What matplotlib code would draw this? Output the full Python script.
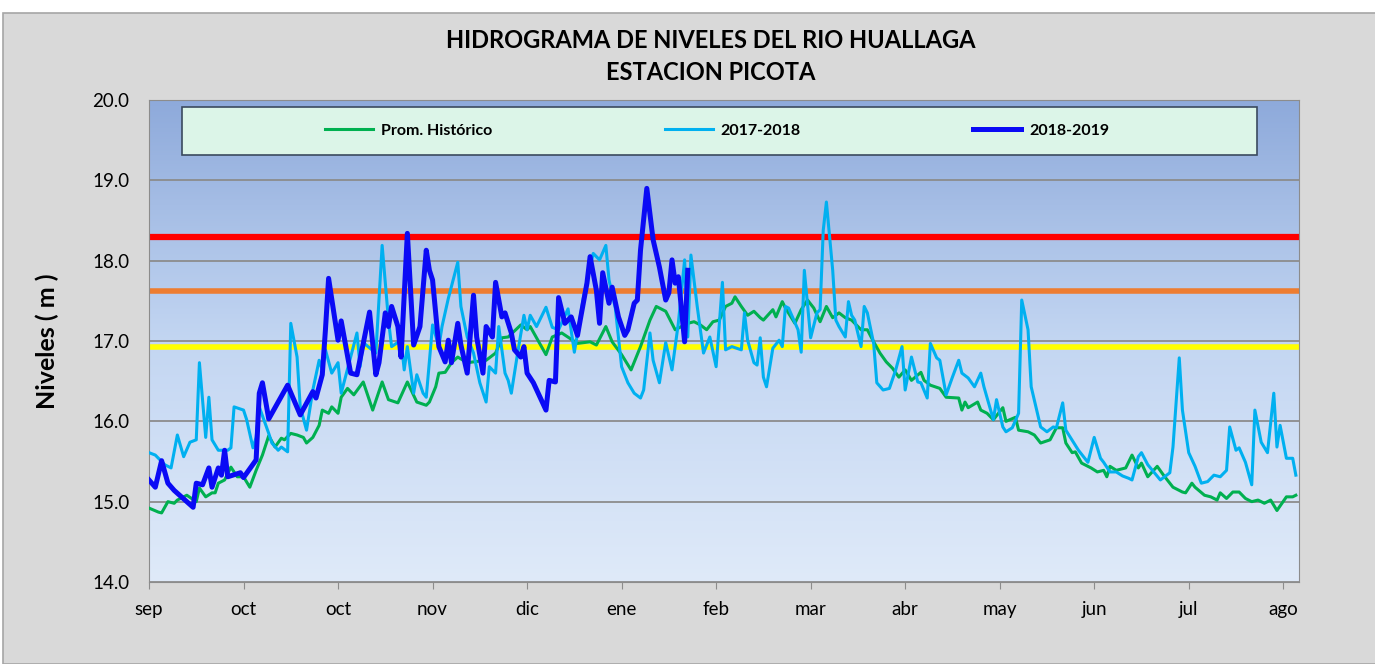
# hidrograma de niveles - rio huallaga, estacion picota
# daily levels (m), x given as days from 1 sep

import numpy as np
import matplotlib
matplotlib.use('Agg')
import matplotlib.pyplot as plt
from matplotlib.colors import LinearSegmentedColormap
from matplotlib.patches import Rectangle

plt.rcParams['font.family'] = ['Lato', 'DejaVu Sans']

month_ticks = [0, 30, 60, 90, 120, 150, 180, 210, 240, 270, 300, 330, 360]
month_labels = ['sep', 'oct', 'oct', 'nov', 'dic', 'ene', 'feb', 'mar', 'abr', 'may', 'jun', 'jul', 'ago']

# Prom. Historico
hist_day = [0, 3, 4, 6, 8, 9, 12, 15, 16, 18, 20, 21, 22, 24, 26, 28, 30, 32, 34, 36,
            38, 40, 42, 43, 45, 47, 49, 50, 52, 54, 55, 57, 58, 60, 61, 63, 65, 68, 71, 74,
            76, 79, 82, 85, 88, 89, 91, 92, 94, 96, 98, 101, 107, 110, 112, 114, 118, 120, 121, 123,
            126, 128, 131, 136, 140, 142, 145, 147, 150, 153, 156, 159, 161, 164, 167, 171, 173, 175, 177, 179,
            181, 183, 185, 186, 188, 190, 192, 194, 195, 198, 199, 201, 202, 205, 207, 209, 211, 213, 215, 217,
            219, 221, 223, 226, 228, 230, 232, 234, 236, 238, 240, 242, 245, 246, 248, 251, 253, 257, 258, 259,
            260, 263, 264, 266, 268, 271, 272, 275, 276, 279, 281, 283, 286, 288, 290, 291, 293, 294, 296, 299,
            301, 303, 304, 305, 307, 310, 312, 314, 315, 317, 320, 322, 325, 328, 329, 331, 332, 335, 337, 339,
            340, 342, 344, 346, 348, 350, 352, 354, 356, 358, 361, 363, 364]
hist_val = [14.92, 14.87, 14.86, 15.00, 14.98, 15.02, 15.08, 15.00, 15.17, 15.06, 15.11, 15.11, 15.23, 15.27, 15.43, 15.31, 15.31, 15.18, 15.39, 15.58,
            15.82, 15.68, 15.79, 15.77, 15.85, 15.83, 15.80, 15.73, 15.80, 15.95, 16.14, 16.10, 16.18, 16.10, 16.30, 16.41, 16.33, 16.49, 16.14, 16.49,
            16.27, 16.23, 16.49, 16.24, 16.20, 16.24, 16.43, 16.60, 16.61, 16.73, 16.80, 16.73, 16.76, 16.85, 17.04, 17.05, 17.20, 17.14, 17.18, 17.04,
            16.83, 17.05, 17.10, 16.97, 16.99, 16.95, 17.18, 16.99, 16.83, 16.64, 16.93, 17.26, 17.43, 17.37, 17.14, 17.22, 17.24, 17.20, 17.14, 17.24,
            17.26, 17.43, 17.47, 17.55, 17.43, 17.32, 17.37, 17.29, 17.26, 17.39, 17.30, 17.49, 17.41, 17.22, 17.39, 17.51, 17.41, 17.24, 17.43, 17.29,
            17.35, 17.29, 17.26, 17.14, 17.14, 16.99, 16.85, 16.74, 16.66, 16.55, 16.64, 16.51, 16.61, 16.51, 16.45, 16.41, 16.30, 16.29, 16.14, 16.24,
            16.17, 16.24, 16.14, 16.10, 16.02, 16.17, 16.00, 16.05, 15.89, 15.87, 15.83, 15.73, 15.77, 15.92, 15.92, 15.73, 15.61, 15.62, 15.48, 15.42,
            15.37, 15.39, 15.31, 15.44, 15.39, 15.42, 15.58, 15.42, 15.48, 15.31, 15.44, 15.33, 15.18, 15.12, 15.11, 15.23, 15.18, 15.08, 15.06, 15.02,
            15.11, 15.04, 15.12, 15.12, 15.04, 15.00, 15.02, 14.98, 15.02, 14.89, 15.06, 15.06, 15.08]

# 2017-2018
y17_day = [0, 2, 3, 5, 7, 9, 11, 13, 15, 16, 18, 19, 20, 22, 25, 26, 27, 30, 31, 33,
           34, 35, 38, 39, 41, 42, 44, 45, 47, 48, 50, 52, 54, 55, 56, 58, 60, 61, 66, 67,
           68, 72, 74, 76, 77, 80, 81, 82, 84, 85, 87, 88, 90, 92, 93, 95, 98, 99, 101, 103,
           105, 107, 108, 110, 111, 113, 114, 115, 117, 119, 120, 121, 123, 126, 128, 130, 133, 135, 138, 141,
           143, 145, 146, 148, 150, 152, 154, 156, 157, 159, 160, 162, 164, 166, 168, 170, 171, 172, 174, 176,
           178, 180, 182, 183, 185, 188, 189, 190, 192, 193, 194, 195, 196, 198, 200, 201, 202, 203, 206, 207,
           208, 210, 212, 213, 214, 215, 217, 218, 219, 221, 222, 223, 224, 226, 227, 228, 230, 231, 233, 235,
           237, 239, 240, 242, 244, 245, 247, 248, 250, 251, 253, 255, 257, 258, 260, 262, 264, 265, 268, 269,
           271, 272, 274, 276, 277, 279, 280, 283, 285, 287, 288, 290, 291, 295, 298, 300, 302, 303, 305, 307,
           309, 311, 312, 314, 315, 317, 321, 324, 325, 327, 328, 330, 332, 334, 336, 338, 340, 342, 343, 345,
           346, 348, 350, 351, 353, 355, 357, 358, 359, 361, 363, 364]
y17_val = [15.61, 15.58, 15.54, 15.46, 15.42, 15.83, 15.56, 15.74, 15.77, 16.73, 15.80, 16.30, 15.77, 15.64, 15.64, 15.67, 16.18, 16.14, 16.02, 15.67,
           15.80, 16.18, 15.85, 15.73, 15.64, 15.68, 15.62, 17.22, 16.80, 16.18, 15.89, 16.39, 16.76, 16.64, 16.89, 16.60, 16.73, 16.35, 17.10, 16.68,
           16.98, 16.85, 18.19, 17.26, 16.93, 17.01, 16.64, 16.93, 16.35, 16.58, 16.35, 16.30, 17.20, 16.93, 17.18, 17.53, 17.98, 17.43, 17.05, 16.85,
           16.48, 16.24, 16.68, 16.60, 17.18, 16.60, 16.51, 16.35, 16.85, 17.32, 17.14, 17.32, 17.18, 17.42, 17.17, 17.14, 17.40, 16.86, 17.57, 18.09,
           18.01, 18.19, 17.76, 17.41, 16.68, 16.48, 16.35, 16.29, 16.39, 17.10, 16.76, 16.48, 16.98, 16.64, 17.22, 18.01, 17.05, 18.07, 17.43, 16.85,
           17.05, 16.68, 17.73, 16.89, 16.93, 16.89, 17.35, 17.01, 16.73, 16.70, 17.04, 16.55, 16.43, 16.91, 17.01, 16.93, 17.43, 17.41, 17.14, 16.86,
           17.88, 17.04, 17.35, 17.39, 18.38, 18.73, 17.88, 17.26, 17.18, 17.05, 17.49, 17.32, 17.26, 16.93, 17.43, 17.35, 16.97, 16.48, 16.39, 16.41,
           16.64, 16.93, 16.39, 16.80, 16.49, 16.48, 16.29, 16.97, 16.79, 16.76, 16.33, 16.55, 16.76, 16.60, 16.54, 16.43, 16.60, 16.43, 16.02, 16.27,
           15.93, 15.87, 15.92, 16.10, 17.51, 17.14, 16.43, 15.93, 15.87, 15.93, 15.92, 16.23, 15.89, 15.64, 15.49, 15.80, 15.54, 15.49, 15.37, 15.37,
           15.32, 15.29, 15.27, 15.56, 15.61, 15.46, 15.27, 15.36, 15.68, 16.79, 16.14, 15.61, 15.44, 15.23, 15.25, 15.33, 15.31, 15.39, 15.93, 15.64,
           15.67, 15.49, 15.21, 16.14, 15.74, 15.61, 16.35, 15.68, 15.95, 15.54, 15.54, 15.33]

# 2018-2019
y18_day = [0, 2, 4, 6, 8, 14, 15, 17, 19, 20, 22, 23, 24, 25, 29, 30, 34, 35, 36, 38,
           40, 44, 48, 52, 53, 55, 56, 57, 60, 61, 64, 66, 70, 72, 73, 75, 76, 77, 79, 80,
           82, 84, 86, 88, 89, 90, 92, 94, 95, 96, 98, 99, 101, 103, 104, 106, 107, 109, 110, 112,
           113, 115, 116, 118, 119, 120, 122, 126, 127, 129, 130, 132, 134, 136, 137, 139, 140, 142, 143, 144,
           146, 147, 149, 151, 152, 154, 155, 156, 158, 160, 162, 164, 165, 166, 167, 168, 170, 171]
y18_val = [15.27, 15.18, 15.51, 15.23, 15.14, 14.93, 15.23, 15.21, 15.42, 15.18, 15.42, 15.33, 15.64, 15.31, 15.36, 15.30, 15.52, 16.35, 16.48, 16.03,
           16.17, 16.45, 16.08, 16.37, 16.29, 16.58, 17.14, 17.78, 17.01, 17.25, 16.60, 16.58, 17.36, 16.58, 16.73, 17.35, 17.18, 17.43, 17.18, 16.80,
           18.34, 16.95, 17.18, 18.13, 17.88, 17.76, 16.93, 16.74, 17.01, 16.73, 17.22, 16.95, 16.60, 17.57, 17.05, 16.60, 17.18, 17.05, 17.73, 17.30,
           17.35, 17.10, 16.89, 16.80, 16.93, 16.60, 16.48, 16.14, 16.51, 16.49, 17.54, 17.22, 17.30, 17.07, 17.29, 17.72, 18.05, 17.63, 17.22, 17.85,
           17.47, 17.67, 17.30, 17.07, 17.14, 17.47, 17.51, 18.13, 18.90, 18.26, 17.92, 17.51, 17.60, 18.01, 17.72, 17.80, 16.99, 17.88]

# alert levels
alert_levels = [18.3, 17.62, 16.93]
alert_colors = ['#ff0000', '#ed7d31', '#ffff00']

fig = plt.figure(figsize=(13.75, 6.64), dpi=100, facecolor='white')
fig.patches.append(Rectangle((3 / 1375, 0), 1, 1 - 13 / 664, transform=fig.transFigure,
                             facecolor='#d9d9d9', edgecolor='#a6a6a6', lw=1.2, zorder=-10))

ax = fig.add_axes([149 / 1375, 1 - 582 / 664, 1150 / 1375, 482 / 664])

# gradient background of the plot area
cmap = LinearSegmentedColormap.from_list('bg', ['#dfeaf9', '#c3d6f2', '#8eaadb'])
ax.imshow(np.linspace(0, 1, 256).reshape(-1, 1), cmap=cmap, origin='lower',
          extent=[0, 365, 14, 20], aspect='auto', zorder=0)

ax.set_xlim(0, 365)
ax.set_ylim(14, 20)
ax.set_yticks(np.arange(14, 20.1, 1))
ax.set_yticklabels(['%.1f' % v for v in np.arange(14, 20.1, 1)])
ax.grid(axis='y', color='#8c8c8c', lw=1.3, zorder=1)
ax.set_axisbelow(False)

for lvl, c in zip(alert_levels, alert_colors):
    ax.axhline(lvl, color=c, lw=4.5 if c == '#ff0000' else 4, zorder=2)

ax.plot(hist_day, hist_val, color='#00b050', lw=2.2, label='Prom. Histórico', zorder=3)
ax.plot(y17_day, y17_val, color='#00b0f0', lw=2.2, label='2017-2018', zorder=4)
ax.plot(y18_day, y18_val, color='#0a0af5', lw=3.6, label='2018-2019', zorder=5)

ax.set_xticks(month_ticks)
ax.set_xticklabels(month_labels)
ax.tick_params(axis='x', length=5, color='#8c8c8c', pad=9, labelsize=13.5)
ax.tick_params(axis='y', length=0, pad=14, labelsize=13.5)
for s in ax.spines.values():
    s.set_color('#8c8c8c')

ax.set_ylabel('Niveles ( m )', fontsize=18, fontweight='bold', labelpad=24)

# legend box
ax.add_patch(Rectangle((33 / 1150, (582 - 155) / 482), 1075 / 1150, 48 / 482,
                       transform=ax.transAxes, facecolor='#dcf5e8', edgecolor='#3b4a5e',
                       lw=1.2, zorder=6))
leg = ax.legend(loc='center', bbox_to_anchor=(0.494, (582 - 131) / 482), ncol=3, frameon=False,
                fontsize=11.5, columnspacing=10.8, handlelength=3.0, handletextpad=0.5)
leg.set_zorder(7)
for t in leg.get_texts():
    t.set_fontweight('bold')

fig.text(0.517, 1 - 40 / 664, 'HIDROGRAMA DE NIVELES DEL RIO HUALLAGA', ha='center', va='center',
         fontsize=17, fontweight='bold')
fig.text(0.517, 1 - 72 / 664, 'ESTACION PICOTA', ha='center', va='center',
         fontsize=17, fontweight='bold')

fig.savefig('out.png', dpi=100, facecolor=fig.get_facecolor())
